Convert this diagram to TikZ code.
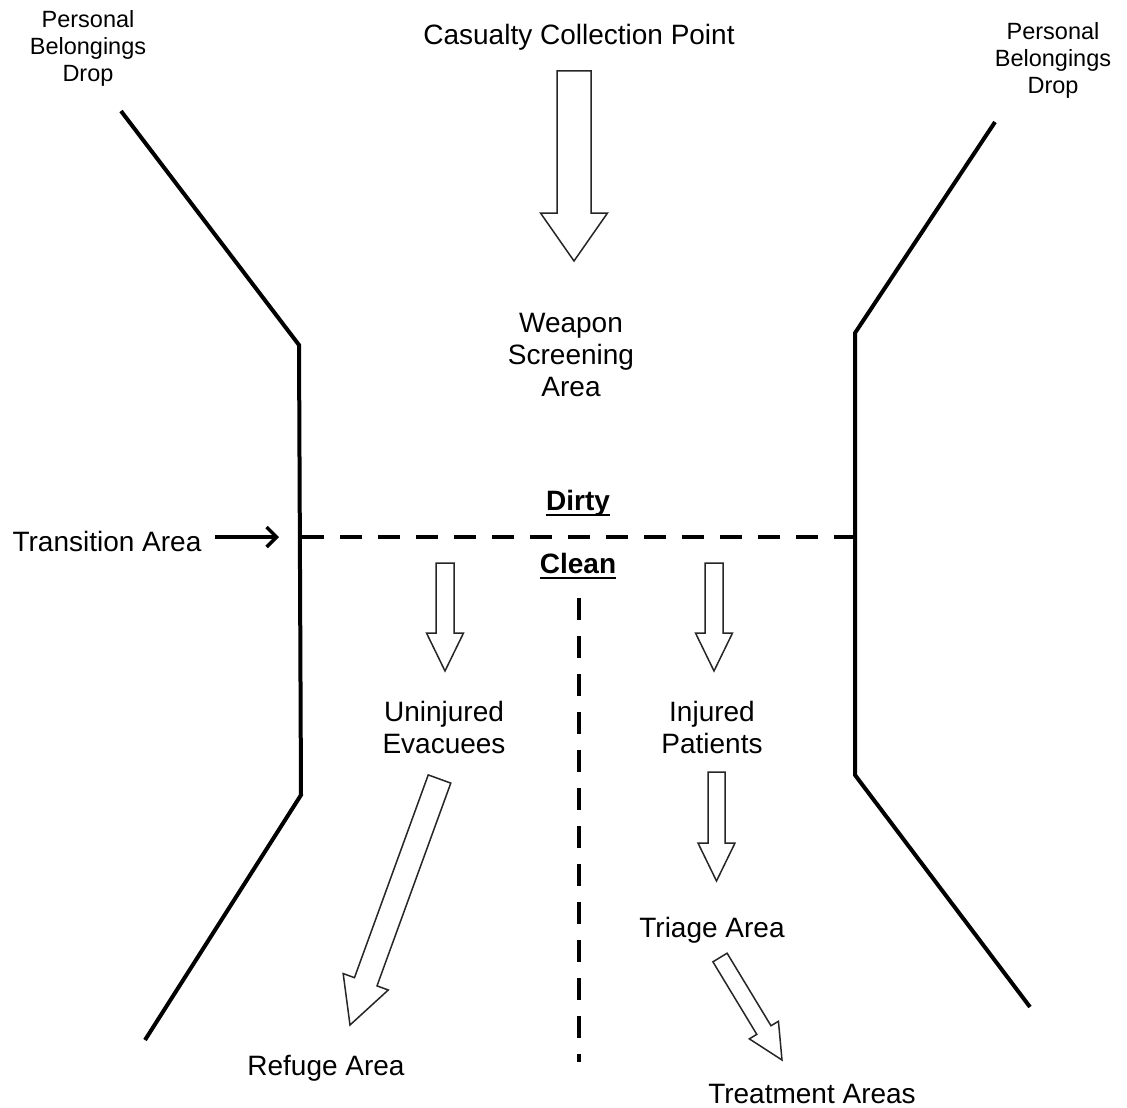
\documentclass[tikz,border=0pt]{standalone}
\usepackage{fontspec}
\setmainfont{Liberation Sans}
\usetikzlibrary{calc,arrows.meta}
\newcommand{\blockarr}[5]{%
  \coordinate (ba-t) at (#1); \coordinate (ba-h) at (#2);
  \coordinate (ba-b) at ($(ba-h)!#5!(ba-t)$);
  \draw[blockarrow]
    ($(ba-t)!#3!90:(ba-h)$) -- ($(ba-b)!#3!-90:(ba-t)$) -- ($(ba-b)!#4!-90:(ba-t)$)
    -- (ba-h) -- ($(ba-b)!#4!90:(ba-t)$) -- ($(ba-b)!#3!90:(ba-t)$)
    -- ($(ba-t)!#3!-90:(ba-h)$) -- cycle;}
\begin{document}
\begin{tikzpicture}[x=1pt,y=-1pt,
  blockarrow/.style={draw=black!85,line width=1.5pt,fill=white,line join=miter},
  wall/.style={line width=4pt,line join=miter},
  divider/.style={line width=4pt,dash pattern=on 22pt off 16pt},
  lab/.style={align=center,inner sep=0pt,font=\fontsize{28}{32}\selectfont},
  small/.style={align=center,inner sep=0pt,font=\fontsize{23.5}{27}\selectfont},
  boldlab/.style={inner sep=0pt,font=\fontsize{28}{32}\selectfont\bfseries},
  uline/.style={line width=2.2pt}]
\useasboundingbox[fill=white] (0,0) rectangle (1127,1108);
% walls
\coordinate (l1) at (121,111); \coordinate (l2) at (299,345);
\coordinate (l3) at (301,795); \coordinate (l4) at (145,1040);
\coordinate (r1) at (995,122); \coordinate (r2) at (855,333);
\coordinate (r3) at (855,775); \coordinate (r4) at (1030,1007);
\draw[wall] (l1) -- (l2) -- (l3) -- (l4);
\draw[wall] (r1) -- (r2) -- (r3) -- (r4);
% dividers
\coordinate (d1) at (302,537); \coordinate (d2) at (853,537);
\draw[divider] (d1) -- (d2);
\coordinate (v1) at (579,598); \coordinate (v2) at (579,1062);
\draw[divider] (v1) -- (v2);
% labels
\node[small] (pbl) at (88,48) {Personal\\Belongings\\Drop};
\node[small] (pbr) at (1053,60) {Personal\\Belongings\\Drop};
\node[lab] (ccp) at (579,37) {Casualty Collection Point};
\node[lab] (wsa) at (571,355) {Weapon\\Screening\\Area};
\node[boldlab,anchor=base] (dirty) at (578,510) {Dirty};
\draw[uline] ($(dirty.base west)+(0,5)$) -- ($(dirty.base east)+(0,5)$);
\node[boldlab,anchor=base] (clean) at (578,573) {Clean};
\draw[uline] ($(clean.base west)+(0,5)$) -- ($(clean.base east)+(0,5)$);
\node[lab] (trans) at (107,541) {Transition Area};
\node[lab] (unev) at (444,727) {Uninjured\\Evacuees};
\node[lab] (injp) at (712,727) {Injured\\Patients};
\node[lab] (tri) at (712,930) {Triage Area};
\node[lab] (ref) at (326,1068) {Refuge Area};
\node[lab] (treat) at (812,1094) {Treatment Areas};
% transition arrow
\coordinate (ta0) at (215,537); \coordinate (ta1) at (279,537);
\draw[line width=3.5pt,-{Straight Barb[length=10pt,width=20pt,line width=3.5pt]}] (ta0) -- (ta1);
% block arrows
\blockarr{574,71}{574,261}{17pt}{33.5pt}{48pt}
\blockarr{445,563}{445,671}{9pt}{18.5pt}{38pt}
\blockarr{714,563}{714,671}{9pt}{18.5pt}{38pt}
\blockarr{716.5,772}{716.5,881}{8.5pt}{18.5pt}{38pt}
\blockarr{439.5,779}{350,1025}{12pt}{24pt}{46pt}
\blockarr{720,957.5}{782,1060}{8.3pt}{17pt}{35pt}
\end{tikzpicture}
\end{document}
